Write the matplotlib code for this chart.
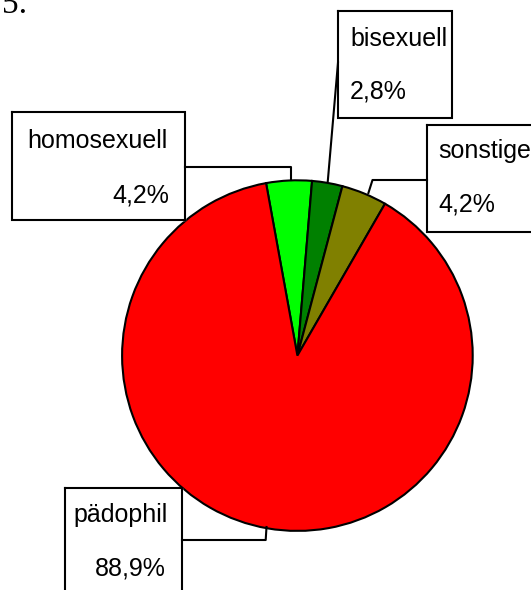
import matplotlib
matplotlib.use("Agg")
import matplotlib.pyplot as plt

W, H = 531, 590

categories = ["homosexuell", "bisexuell", "sonstige", "pädophil"]
shares = [4.2, 2.8, 4.2, 88.9]
share_labels = ["4,2%", "2,8%", "4,2%", "88,9%"]
colors = ["#00FF00", "#008000", "#808000", "#FF0000"]


def Y(y):
    # picture rows run downwards, axes runs upwards
    return H - y


fig = plt.figure(figsize=(W / 100, H / 100), dpi=100)
ax = fig.add_axes([0, 0, 1, 1])

ax.pie(
    shares,
    colors=colors,
    startangle=100.3,
    counterclock=False,
    center=(297.4, Y(355.6)),
    radius=175.3,
    wedgeprops=dict(edgecolor="black", linewidth=1.5),
    frame=True,
)
ax.set_xlim(0, W)
ax.set_ylim(0, H)
ax.axis("off")

font = dict(family="Liberation Sans", fontsize=18, color="black")
box_lw = 1.5

# label boxes: (x0, y0, x1, y1) in picture pixels, text positions, leader line
boxes = [
    dict(rect=(12, 112, 185, 220), name=(27, 148, "left"), pct=(169, 202, "right"),
         leader=[(185, 166.5), (291, 166.5), (291, 179.5)]),
    dict(rect=(338, 11, 452, 118), name=(350, 45.7, "left"), pct=(350, 98, "left"),
         leader=[(338, 62.6), (327.8, 181)]),
    dict(rect=(427, 125, 560, 232), name=(438, 158.3, "left"), pct=(438, 211.7, "left"),
         leader=[(427, 180), (372.5, 180), (368.4, 193)]),
    dict(rect=(65, 488, 182, 620), name=(73, 521.7, "left"), pct=(166, 575.7, "right"),
         leader=[(182, 540), (265.7, 540), (266.5, 527)]),
]

for cat, lab, b in zip(categories, share_labels, boxes):
    x0, y0, x1, y1 = b["rect"]
    ax.fill([x0, x1, x1, x0], [Y(y0), Y(y0), Y(y1), Y(y1)], color="white", zorder=3)
    ax.plot([x0, x1, x1, x0, x0], [Y(y0), Y(y0), Y(y1), Y(y1), Y(y0)],
            color="black", lw=box_lw, zorder=4, solid_joinstyle="miter")
    lx = [p[0] for p in b["leader"]]
    ly = [Y(p[1]) for p in b["leader"]]
    ax.plot(lx, ly, color="black", lw=box_lw, zorder=4)
    nx, ny, nha = b["name"]
    ax.text(nx, Y(ny), cat, ha=nha, va="baseline", zorder=5, **font)
    px, py, pha = b["pct"]
    ax.text(px, Y(py), lab, ha=pha, va="baseline", zorder=5, **font)

# cut-off page number at the top left corner (cut in the source too)
ax.text(2, Y(13), "5.", family="Liberation Serif", fontsize=24, ha="left",
        va="baseline", color="black")

fig.savefig("out.png", dpi=100)
plt.close(fig)
